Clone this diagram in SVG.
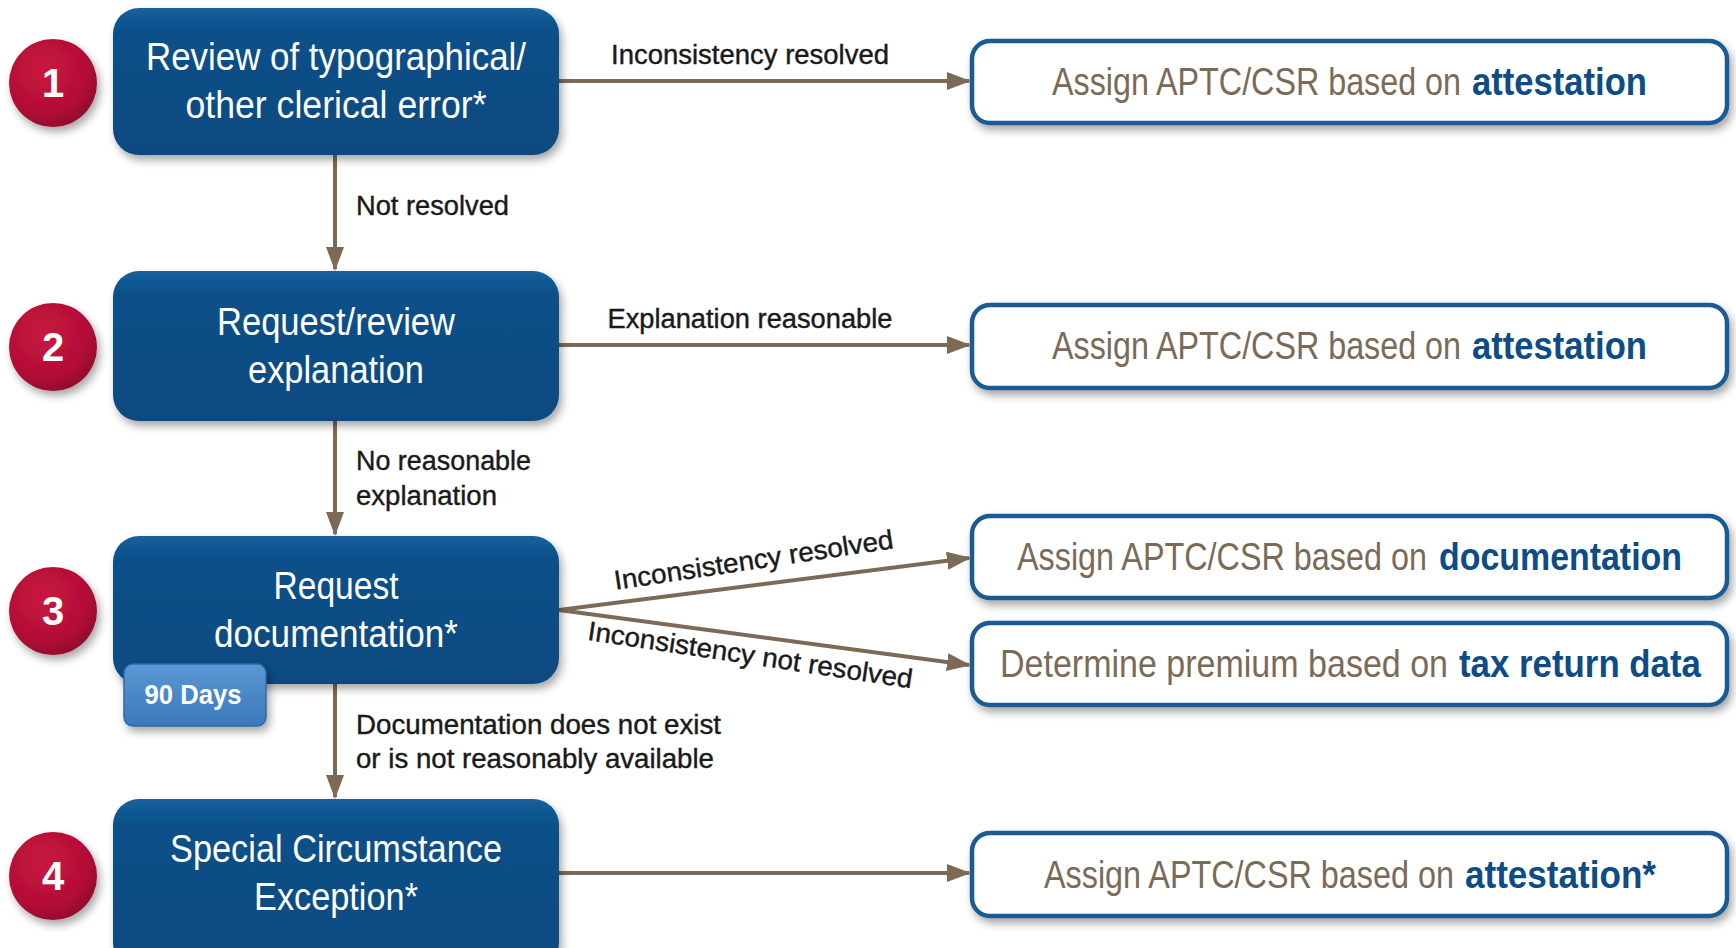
<svg xmlns="http://www.w3.org/2000/svg" width="1736" height="948" viewBox="0 0 1736 948">
<defs>
<style>
.nt{font-family:"Liberation Sans",Arial,sans-serif;font-size:38px;fill:#ffffff;text-anchor:middle}
.rt{font-family:"Liberation Sans",Arial,sans-serif;font-size:32px;fill:#7b6a58}
.rb{font-family:"Liberation Sans",Arial,sans-serif;font-size:32px;font-weight:bold;fill:#0d4c84}
.lb{font-family:"Liberation Sans",Arial,sans-serif;font-size:27px;fill:#1a1a1a;stroke:#1a1a1a;stroke-width:0.4}
.num{font-family:"Liberation Sans",Arial,sans-serif;font-size:40px;font-weight:bold;fill:#ffffff;text-anchor:middle}
.node{fill:url(#gNode);filter:url(#sh)}
.res{fill:#ffffff;stroke:#1b5a94;stroke-width:4.5;filter:url(#sh)}
.circ{fill:url(#gRed);filter:url(#sh)}
.conn{stroke:#7d6a56;stroke-width:4;fill:none;marker-end:url(#ah)}
</style>
<linearGradient id="gNode" x1="0" y1="0" x2="0" y2="1">
<stop offset="0" stop-color="#15609c"/>
<stop offset="0.15" stop-color="#0b5089"/>
<stop offset="1" stop-color="#0a4a80"/>
</linearGradient>
<radialGradient id="gRed" cx="0.4" cy="0.35" r="0.7">
<stop offset="0" stop-color="#c8143f"/>
<stop offset="0.7" stop-color="#b31036"/>
<stop offset="1" stop-color="#8e0c2a"/>
</radialGradient>
<linearGradient id="gBadge" x1="0" y1="0" x2="0" y2="1">
<stop offset="0" stop-color="#5b97d3"/>
<stop offset="1" stop-color="#3a78bc"/>
</linearGradient>
<filter id="sh" x="-10%" y="-20%" width="125%" height="150%">
<feDropShadow dx="3" dy="5" stdDeviation="4" flood-color="#000" flood-opacity="0.35"/>
</filter>
<marker id="ah" markerWidth="24" markerHeight="18" refX="22" refY="9" orient="auto" markerUnits="userSpaceOnUse">
<path d="M0,0 L24,9 L0,18 Z" fill="#7d6a56"/>
</marker>
</defs>
<rect width="1736" height="948" fill="#ffffff"/>

<g id="connectors">
<line class="conn" x1="559" y1="81" x2="969" y2="81"/>
<line class="conn" x1="559" y1="345" x2="969" y2="345"/>
<line class="conn" x1="559" y1="610" x2="969" y2="558"/>
<line class="conn" x1="559" y1="610" x2="969" y2="665"/>
<line class="conn" x1="559" y1="873" x2="969" y2="873"/>
<line class="conn" x1="335" y1="155" x2="335" y2="269"/>
<line class="conn" x1="335" y1="421" x2="335" y2="534"/>
<line class="conn" x1="335" y1="684" x2="335" y2="797"/>
<text class="lb" x="750" y="64" text-anchor="middle" textLength="278" lengthAdjust="spacingAndGlyphs">Inconsistency resolved</text>
<text class="lb" x="750" y="328" text-anchor="middle" textLength="285" lengthAdjust="spacingAndGlyphs">Explanation reasonable</text>
<text class="lb" x="356" y="215" textLength="153" lengthAdjust="spacingAndGlyphs">Not resolved</text>
<text class="lb" x="356" y="470" textLength="175" lengthAdjust="spacingAndGlyphs">No reasonable</text>
<text class="lb" x="356" y="505" textLength="141" lengthAdjust="spacingAndGlyphs">explanation</text>
<text class="lb" x="356" y="734" textLength="365" lengthAdjust="spacingAndGlyphs">Documentation does not exist</text>
<text class="lb" x="356" y="768" textLength="358" lengthAdjust="spacingAndGlyphs">or is not reasonably available</text>
<text class="lb" x="755" y="569" text-anchor="middle" transform="rotate(-8.5 755 569)" textLength="282" lengthAdjust="spacingAndGlyphs">Inconsistency resolved</text>
<text class="lb" x="749" y="664" text-anchor="middle" transform="rotate(8.5 749 664)" textLength="328" lengthAdjust="spacingAndGlyphs">Inconsistency not resolved</text>
</g>

<g id="n1">
<circle class="circ" cx="53" cy="83" r="44"/>
<text class="num" x="53" y="97">1</text>
<rect class="node" x="113" y="8" width="446" height="147" rx="26"/>
<text class="nt" x="336" y="70" textLength="380" lengthAdjust="spacingAndGlyphs">Review of typographical/</text>
<text class="nt" x="336" y="118" textLength="301" lengthAdjust="spacingAndGlyphs">other clerical error*</text>
</g>
<g id="n2">
<circle class="circ" cx="53" cy="347" r="44"/>
<text class="num" x="53" y="361">2</text>
<rect class="node" x="113" y="271" width="446" height="150" rx="26"/>
<text class="nt" x="336" y="335" textLength="238" lengthAdjust="spacingAndGlyphs">Request/review</text>
<text class="nt" x="336" y="383" textLength="176" lengthAdjust="spacingAndGlyphs">explanation</text>
</g>
<g id="n3">
<circle class="circ" cx="53" cy="611" r="44"/>
<text class="num" x="53" y="625">3</text>
<rect class="node" x="113" y="536" width="446" height="148" rx="26"/>
<text class="nt" x="336" y="599" textLength="125" lengthAdjust="spacingAndGlyphs">Request</text>
<text class="nt" x="336" y="647" textLength="244" lengthAdjust="spacingAndGlyphs">documentation*</text>
<g id="badge">
<rect x="124" y="664" width="142" height="62" rx="9" fill="url(#gBadge)" stroke="#2f6aa8" stroke-width="1.5" filter="url(#sh)"/>
<text x="193" y="704" font-family="Liberation Sans,Arial,sans-serif" font-size="27" font-weight="bold" fill="#ffffff" text-anchor="middle" textLength="97" lengthAdjust="spacingAndGlyphs">90 Days</text>
</g>
</g>
<g id="n4">
<circle class="circ" cx="53" cy="876" r="44"/>
<text class="num" x="53" y="890">4</text>
<rect class="node" x="113" y="799" width="446" height="170" rx="26"/>
<text class="nt" x="336" y="862" textLength="332" lengthAdjust="spacingAndGlyphs">Special Circumstance</text>
<text class="nt" x="336" y="910" textLength="164" lengthAdjust="spacingAndGlyphs">Exception*</text>
</g>

<g id="r1">
<rect class="res" x="972" y="41" width="755" height="82" rx="18"/>
<g transform="translate(0,95) scale(1,1.19)">
<text class="rt" x="1052" y="0" textLength="409" lengthAdjust="spacingAndGlyphs">Assign APTC/CSR based on</text>
<text class="rb" x="1472" y="0" textLength="175" lengthAdjust="spacingAndGlyphs">attestation</text>
</g>
</g>
<g id="r2">
<rect class="res" x="972" y="305" width="755" height="83" rx="18"/>
<g transform="translate(0,359) scale(1,1.19)">
<text class="rt" x="1052" y="0" textLength="409" lengthAdjust="spacingAndGlyphs">Assign APTC/CSR based on</text>
<text class="rb" x="1472" y="0" textLength="175" lengthAdjust="spacingAndGlyphs">attestation</text>
</g>
</g>
<g id="r3">
<rect class="res" x="972" y="516" width="755" height="82" rx="18"/>
<g transform="translate(0,570) scale(1,1.19)">
<text class="rt" x="1017" y="0" textLength="410" lengthAdjust="spacingAndGlyphs">Assign APTC/CSR based on</text>
<text class="rb" x="1439" y="0" textLength="243" lengthAdjust="spacingAndGlyphs">documentation</text>
</g>
</g>
<g id="r4">
<rect class="res" x="972" y="623" width="755" height="82" rx="18"/>
<g transform="translate(0,677) scale(1,1.19)">
<text class="rt" x="1000" y="0" textLength="448" lengthAdjust="spacingAndGlyphs">Determine premium based on</text>
<text class="rb" x="1459" y="0" textLength="242" lengthAdjust="spacingAndGlyphs">tax return data</text>
</g>
</g>
<g id="r5">
<rect class="res" x="972" y="833" width="755" height="83" rx="18"/>
<g transform="translate(0,888) scale(1,1.19)">
<text class="rt" x="1044" y="0" textLength="410" lengthAdjust="spacingAndGlyphs">Assign APTC/CSR based on</text>
<text class="rb" x="1465" y="0" textLength="191" lengthAdjust="spacingAndGlyphs">attestation*</text>
</g>
</g>
</svg>
